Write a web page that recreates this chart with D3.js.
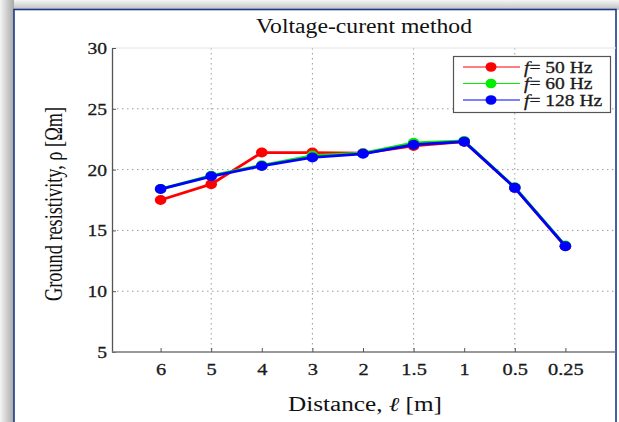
<!DOCTYPE html>
<html><head><meta charset="utf-8">
<script src="https://cdn.jsdelivr.net/npm/d3@7"></script>
<style>html,body{margin:0;padding:0;background:#fff;}svg{display:block;}</style>
</head><body>
<svg id="c" width="619" height="422"></svg>
<script>
const categories = ["6","5","4","3","2","1.5","1","0.5","0.25"];
const series50 = [17.5, 18.8, 21.4, 21.4, 21.35, 21.95, 22.3, 18.5, 13.7];
const series60 = [18.4, 19.5, 20.35, 21.15, 21.35, 22.2, 22.35, 18.55, 13.75];
const series128 = [18.4, 19.45, 20.3, 21.0, 21.3, 22.05, 22.3, 18.5, 13.7];
const seriesNames = ["50 Hz", "60 Hz", "128 Hz"];
const seriesColors = ["#ff0000", "#00ee00", "#0000ff"];
const yTicks = [5, 10, 15, 20, 25, 30];
const title = "Voltage-curent method";

(function(){
const svg = d3.select("#c");
const font = "'Liberation Serif', 'Times New Roman', serif";
function stretch(sel, k) {
  sel.each(function() {
    const w = this.getComputedTextLength();
    d3.select(this).attr("textLength", w * k).attr("lengthAdjust", "spacingAndGlyphs");
  });
}

// shadow / frame
const defs = svg.append("defs");
const gl = defs.append("linearGradient").attr("id","gl").attr("x1","0").attr("x2","1").attr("y1","0").attr("y2","0");
gl.append("stop").attr("offset","0").attr("stop-color","#f4f4f4");
gl.append("stop").attr("offset","1").attr("stop-color","#a8a8a8");
const gt = defs.append("linearGradient").attr("id","gt").attr("x1","0").attr("x2","0").attr("y1","0").attr("y2","1");
gt.append("stop").attr("offset","0").attr("stop-color","#f6f6f6");
gt.append("stop").attr("offset","1").attr("stop-color","#bcbcbc");
svg.append("rect").attr("x",0).attr("y",0).attr("width",619).attr("height",10).attr("fill","url(#gt)");
svg.append("rect").attr("x",0).attr("y",0).attr("width",14).attr("height",422).attr("fill","url(#gl)");
svg.append("rect").attr("x",14).attr("y",9.5).attr("width",602).attr("height",420)
  .attr("fill","#fff").attr("stroke","#1a3a8c").attr("stroke-width",1.6);

const pl = 112, pr = 616, pt = 48, pb = 352;
const x = d3.scaleLinear().domain([0, 10]).range([110, 616]);
const y = d3.scaleLinear().domain([5, 30]).range([pb, pt]);
const idx = d3.range(categories.length).map(i => i + 1);

const g = svg.append("g");
[25, 20, 15, 10].forEach(v => {
  g.append("line").attr("x1", pl).attr("x2", pr).attr("y1", y(v)).attr("y2", y(v))
    .attr("stroke", "#9a9a9a").attr("stroke-width", 1).attr("stroke-dasharray", "1.5,3.5");
});
[2, 4, 6, 8].forEach(v => {
  g.append("line").attr("x1", x(v)).attr("x2", x(v)).attr("y1", pt).attr("y2", pb)
    .attr("stroke", "#9a9a9a").attr("stroke-width", 1).attr("stroke-dasharray", "1.5,3.5");
});
g.append("line").attr("x1", pl).attr("x2", pr).attr("y1", pt).attr("y2", pt)
  .attr("stroke", "#e4e4e4").attr("stroke-width", 1);

const yAxis = d3.axisLeft(y).tickValues(yTicks).tickSize(0).tickPadding(5);
const ya = svg.append("g").attr("transform", `translate(${pl},0)`).call(yAxis);
ya.select(".domain").attr("stroke", "#555").attr("stroke-width", 1.3);
ya.selectAll("text").attr("font-family", font).attr("font-size", 17).attr("fill", "#1a1a1a")
  .attr("stroke", "#1a1a1a").attr("stroke-width", 0.3);
ya.selectAll(".tick").append("line").attr("x1", 0).attr("x2", 4).attr("stroke", "#555");
stretch(ya.selectAll("text"), 1.15);

const xAxis = d3.axisBottom(x).tickValues(idx).tickFormat((d, i) => categories[i]).tickSize(-4).tickPadding(11);
const xa = svg.append("g").attr("transform", `translate(0,${pb})`).call(xAxis);
xa.select(".domain").attr("d", `M${pl},0H${pr}`).attr("stroke", "#777").attr("stroke-width", 1.3);
xa.selectAll(".tick line").attr("stroke", "#555");
xa.selectAll("text").attr("font-family", font).attr("font-size", 17).attr("fill", "#1a1a1a")
  .attr("stroke", "#1a1a1a").attr("stroke-width", 0.3);
stretch(xa.selectAll("text"), 1.2);

const allSeries = [series50, series60, series128];
const line = d3.line().x((d, i) => x(idx[i])).y(d => y(d));
allSeries.forEach((s, k) => {
  svg.append("path").datum(s).attr("d", line).attr("fill", "none")
    .attr("stroke", seriesColors[k]).attr("stroke-width", 2.8).attr("stroke-linejoin", "round");
  svg.selectAll(null).data(s).enter().append("ellipse")
    .attr("cx", (d, i) => x(idx[i])).attr("cy", d => y(d)).attr("rx", 5.8).attr("ry", 5)
    .attr("fill", seriesColors[k]);
});

const lg = svg.append("g");
lg.append("rect").attr("x", 453.5).attr("y", 56.5).attr("width", 157).attr("height", 56)
  .attr("fill", "#fff").attr("stroke", "#555").attr("stroke-width", 1.2);
seriesNames.forEach((n, k) => {
  const yy = 67 + k * 16.5;
  lg.append("line").attr("x1", 463).attr("x2", 520).attr("y1", yy).attr("y2", yy)
    .attr("stroke", seriesColors[k]).attr("stroke-width", 1.2);
  lg.append("ellipse").attr("cx", 491).attr("cy", yy).attr("rx", 5.5).attr("ry", 4.8).attr("fill", seriesColors[k]);
  const t = lg.append("text").attr("x", 524).attr("y", yy + 5.5).attr("font-family", font)
    .attr("font-size", 16).attr("fill", "#1a1a1a").attr("stroke", "#1a1a1a").attr("stroke-width", 0.3);
  t.append("tspan").attr("font-style", "italic").text("f");
  t.append("tspan").text("= " + n);
  stretch(t, 1.22);
});

const tt = svg.append("text").attr("x", 364).attr("y", 33).attr("text-anchor", "middle")
  .attr("font-family", font).attr("font-size", 20).attr("fill", "#111").text(title);
tt.attr("textLength", 216).attr("lengthAdjust", "spacingAndGlyphs");
const xl = svg.append("text").attr("x", 365).attr("y", 411).attr("text-anchor", "middle")
  .attr("font-family", font).attr("font-size", 20).attr("fill", "#111");
xl.append("tspan").text("Distance, ");
xl.append("tspan").attr("font-style", "italic").text("ℓ");
xl.append("tspan").text(" [m]");
xl.attr("textLength", 154).attr("lengthAdjust", "spacingAndGlyphs");
svg.append("text").attr("transform", "translate(62,204) scale(1.3,1) rotate(-90)").attr("text-anchor", "middle")
  .attr("font-family", font).attr("font-size", 19).attr("fill", "#111")
  .attr("textLength", 194).attr("lengthAdjust", "spacingAndGlyphs")
  .text("Ground resistivity,  ρ [Ωm]");
})();
</script>
</body></html>
